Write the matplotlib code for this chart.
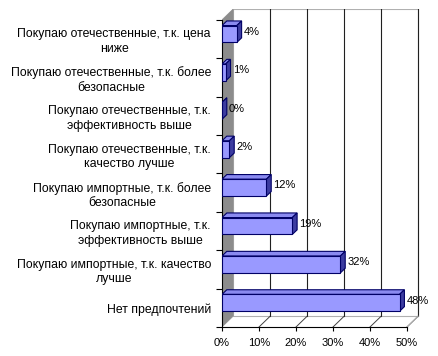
import matplotlib
matplotlib.use("Agg")
import matplotlib.pyplot as plt
from matplotlib.patches import Polygon

plt.rcParams['font.family'] = ['Liberation Sans', 'DejaVu Sans']

categories = [
    "Нет предпочтений",
    "Покупаю импортные, т.к. качество\nлучше",
    "Покупаю импортные, т.к.\nэффективность выше",
    "Покупаю импортные, т.к. более\nбезопасные",
    "Покупаю отечественные, т.к.\nкачество лучше",
    "Покупаю отечественные, т.к.\nэффективность выше",
    "Покупаю отечественные, т.к. более\nбезопасные",
    "Покупаю отечественные, т.к. цена\nниже",
]
values = [48, 32, 19, 12, 2, 0, 1, 4]
value_labels = ["48%", "32%", "19%", "12%", "2%", "0%", "1%", "4%"]
xticks = [0, 10, 20, 30, 40, 50]
xtick_labels = ["0%", "10%", "20%", "30%", "40%", "50%"]

W, H = 438, 356
fig = plt.figure(figsize=(W / 100, H / 100), dpi=100)

px_per_x = 3.7
px_per_y = 38.4
xmax = 56
dx, dy = 3.0, 0.28          # depth of the chart box
bdx, bdy = 1.3, 0.12        # depth of bars
n = len(categories)
ymin, ymax = -0.5, n - 0.5 + dy

left_px, bottom_px = 222, 327
ax = fig.add_axes([left_px / W, (H - bottom_px) / H,
                   xmax * px_per_x / W, (ymax - ymin) * px_per_y / H])
ax.set_xlim(0, xmax)
ax.set_ylim(ymin, ymax)
ax.patch.set_alpha(0)

y0, y1 = -0.5, n - 0.5
# back wall
ax.add_patch(Polygon([(dx, y0 + dy), (50 + dx, y0 + dy), (50 + dx, y1 + dy), (dx, y1 + dy)],
                     closed=True, facecolor="white", edgecolor="#b0b0b0", lw=0.8, zorder=1))
for x in xticks[1:]:
    ax.plot([x + dx, x + dx], [y0 + dy, y1 + dy], color="#202020", lw=0.8, zorder=2)
    ax.plot([x + dx, x], [y0 + dy, y0], color="#404040", lw=0.7, zorder=2)
# left wall
ax.add_patch(Polygon([(0, y0), (dx, y0 + dy), (dx, y1 + dy), (0, y1)],
                     closed=True, facecolor="#8c8c8c", edgecolor="#8c8c8c", lw=0.5, zorder=2))
# floor right edge
ax.plot([50, 50 + dx], [y0, y0 + dy], color="#b0b0b0", lw=0.8, zorder=2)

bh = 0.44
off = 0.13
for i, v in enumerate(values):
    yc = i + off
    yb, yt = yc - bh / 2, yc + bh / 2
    ec = "#000066"
    # top face
    ax.add_patch(Polygon([(0, yt), (v, yt), (v + bdx, yt + bdy), (bdx, yt + bdy)],
                         closed=True, facecolor="#8a8af0", edgecolor=ec, lw=0.8, zorder=4))
    # side face
    ax.add_patch(Polygon([(v, yb), (v + bdx, yb + bdy), (v + bdx, yt + bdy), (v, yt)],
                         closed=True, facecolor="#3c3ca0", edgecolor=ec, lw=0.8, zorder=4))
    # front face
    ax.add_patch(Polygon([(0, yb), (v, yb), (v, yt), (0, yt)],
                         closed=True, facecolor="#9999ff", edgecolor=ec, lw=0.8, zorder=5))
    ax.text(v + bdx + 0.6, yc + bdy / 2, value_labels[i], ha="left", va="center",
            fontsize=8, color="black", zorder=6)

for s in ["top", "right"]:
    ax.spines[s].set_visible(False)
ax.spines["left"].set_bounds(y0, y1)
ax.spines["bottom"].set_bounds(0, 50)
ax.spines["left"].set_zorder(3)

ax.set_yticks(range(n))
ax.set_yticklabels(categories, fontsize=8.8, multialignment="center", linespacing=1.25)
ax.set_yticks([k - 0.5 for k in range(n + 1)], minor=True)
ax.tick_params(axis="y", which="major", length=0, pad=8)
ax.tick_params(axis="y", which="minor", length=4, width=0.8, direction="out")
ax.set_xticks(xticks)
ax.set_xticklabels(xtick_labels, fontsize=8)
ax.tick_params(axis="x", length=3, width=0.8, direction="out", pad=5)

fig.savefig("out.png", dpi=100)
